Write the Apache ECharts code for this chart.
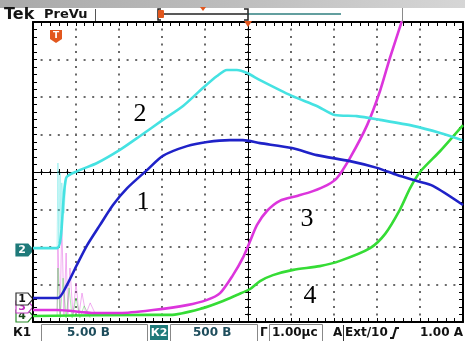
<!DOCTYPE html>
<html>
<head>
<meta charset="utf-8">
<script src="https://cdn.jsdelivr.net/npm/echarts@6/dist/echarts.min.js"></script>
<style>
  html, body { margin: 0; padding: 0; background: #ffffff; }
  #scope { width: 465px; height: 341px; }
</style>
</head>
<body>
<div id="scope"></div>
<script>
// Time base: 1.00 µs/div, trigger at screen centre (t = 0). Vertical values in screen divisions.
const timeRange = [-5, 5];
const divRange = [-4, 4];

// Channel 1 (blue)
const ch1 = [
  [-5.00, -3.36], [-4.42, -3.36], [-4.21, -3.01], [-3.98, -2.48], [-3.74, -1.95],
  [-3.44, -1.41], [-3.14, -0.88], [-2.81, -0.43], [-2.35, 0.05], [-1.98, 0.43],
  [-1.42, 0.69], [-0.95, 0.80], [-0.42, 0.85], [-0.12, 0.85], [0.28, 0.77],
  [1.02, 0.64], [1.60, 0.45], [2.37, 0.29], [3.00, 0.11], [3.47, -0.08],
  [3.93, -0.24], [4.30, -0.37], [5.00, -0.88]
];

// Channel 2 (cyan)
const ch2 = [
  [-5.00, -2.03], [-4.44, -2.03], [-4.23, -0.16], [-3.95, 0.03], [-3.51, 0.24],
  [-2.98, 0.59], [-2.51, 0.96], [-1.98, 1.39], [-1.51, 1.76], [-1.05, 2.24],
  [-0.72, 2.56], [-0.49, 2.72], [-0.26, 2.72], [-0.02, 2.64], [0.28, 2.45],
  [1.02, 2.03], [1.60, 1.76], [2.02, 1.52], [2.53, 1.49], [3.07, 1.39],
  [3.84, 1.23], [4.47, 1.04], [4.98, 0.85]
];
const ch2Burst = [
  [-4.44, -2.03], [-4.42, 0.24], [-4.40, -1.90], [-4.37, -0.03], [-4.35, -1.50],
  [-4.33, -0.29], [-4.28, -1.10], [-4.23, -0.16]
];

// Channel 3 (magenta)
const ch3 = [
  [-5.00, -3.68], [-4.44, -3.68], [-3.56, -3.76], [-2.98, -3.76], [-2.21, -3.68],
  [-1.42, -3.55], [-0.95, -3.41], [-0.65, -3.23], [-0.35, -2.75], [-0.12, -2.29],
  [0.05, -1.84], [0.21, -1.41], [0.44, -1.04], [0.74, -0.77], [1.14, -0.64],
  [1.51, -0.51], [1.84, -0.35], [2.07, -0.16], [2.37, 0.37], [2.77, 1.25],
  [3.07, 2.16], [3.30, 3.04], [3.58, 4.03], [3.70, 4.50]
];
const ch3Burst = [
  [-4.44, -3.68], [-4.42, -2.03], [-4.37, -3.79], [-4.33, -1.36], [-4.28, -3.84],
  [-4.23, -2.16], [-4.19, -3.79], [-4.14, -2.56], [-4.07, -3.84], [-4.00, -2.96],
  [-3.93, -3.79], [-3.86, -3.23], [-3.77, -3.79], [-3.67, -3.49], [-3.56, -3.76]
];

// Channel 4 (green)
const ch4 = [
  [-5.00, -3.84], [-2.28, -3.81], [-1.81, -3.81], [-1.05, -3.63], [-0.58, -3.44],
  [-0.26, -3.28], [0.05, -3.12], [0.28, -2.91], [0.58, -2.75], [1.05, -2.61],
  [1.67, -2.51], [2.14, -2.37], [2.84, -2.03], [3.19, -1.65], [3.53, -1.01],
  [3.77, -0.43], [4.00, 0.00], [4.47, 0.56], [5.00, 1.25]
];
const ch4Burst = [
  [-4.44, -3.84], [-4.42, -2.56], [-4.37, -3.89], [-4.30, -2.83], [-4.23, -3.89],
  [-4.16, -3.09], [-4.09, -3.89], [-4.00, -3.36], [-3.91, -3.89], [-3.81, -3.57],
  [-3.67, -3.89]
];

// Trace numbers placed next to the curves
const traceLabels = ['1', '2', '3', '4'];

const colors = { ch1: '#1f22c8', ch2: '#45e2e2', ch3: '#dc35dc', ch4: '#35dc35' };

const chart = echarts.init(document.getElementById('scope'), null, { renderer: 'canvas' });

const frameX = (pos, extra) => Object.assign({
  type: 'value', min: timeRange[0], max: timeRange[1], interval: 1, position: pos,
  axisLine: { show: true, onZero: false, lineStyle: { color: '#000', width: 2 } },
  axisTick: { show: true, inside: true, length: 4, lineStyle: { color: '#000', width: 1 } },
  minorTick: { show: true, splitNumber: 5, length: 4, lineStyle: { color: '#000', width: 1 } },
  axisLabel: { show: false }, splitLine: { show: false }
}, extra || {});
const frameY = (pos, extra) => Object.assign({
  type: 'value', min: divRange[0], max: divRange[1], interval: 1, position: pos,
  axisLine: { show: true, onZero: false, lineStyle: { color: '#000', width: 2 } },
  axisTick: { show: true, inside: true, length: 4, lineStyle: { color: '#000', width: 1 } },
  minorTick: { show: true, splitNumber: 5, length: 4, lineStyle: { color: '#000', width: 1 } },
  axisLabel: { show: false }, splitLine: { show: false }
}, extra || {});
const crossX = (inside) => frameX('bottom', {
  offset: -150,
  axisLine: { show: true, onZero: false, lineStyle: { color: '#000', width: 1 } },
  axisTick: { show: true, inside: inside, length: 3, lineStyle: { color: '#000', width: 1 } },
  minorTick: { show: true, splitNumber: 5, length: 3, lineStyle: { color: '#000', width: 1 } }
});
const crossY = (inside) => frameY('left', {
  offset: -215,
  axisLine: { show: true, onZero: false, lineStyle: { color: '#000', width: 1 } },
  axisTick: { show: true, inside: inside, length: 3, lineStyle: { color: '#000', width: 1 } },
  minorTick: { show: true, splitNumber: 5, length: 3, lineStyle: { color: '#000', width: 1 } }
});

const traceSeries = (data, color, width, opacity, z) => ({
  type: 'line', data: data, xAxisIndex: 0, yAxisIndex: 0,
  showSymbol: false, symbol: 'none', smooth: width > 1.5 ? 0.25 : false, clip: true,
  lineStyle: { color: color, width: width, opacity: opacity },
  z: z, silent: true, animation: false
});

// Small tag shapes for the channel ground markers on the left edge
function groundTag(y, label, fill, stroke, textColor) {
  return {
    type: 'group', children: [
      { type: 'polygon', shape: { points: [[16, y - 6], [28, y - 6], [33, y], [28, y + 6], [16, y + 6]] },
        style: { fill: fill, stroke: stroke, lineWidth: 1.2 } },
      { type: 'text', x: 22, y: y, style: { text: label, font: 'bold 11px "DejaVu Sans"', fill: textColor, align: 'center', verticalAlign: 'middle' } }
    ]
  };
}

const statusFont = 'bold 12px "DejaVu Sans"';
const dotGrid = (dash) => ({ show: true, lineStyle: { color: '#6a6a6a', width: 2, type: dash, dashOffset: 1, cap: 'butt' } });

chart.setOption({
  animation: false,
  backgroundColor: '#ffffff',
  grid: { left: 33, right: 2, top: 22, bottom: 19, containLabel: false },
  xAxis: [
    frameX('bottom', { splitLine: dotGrid([2, 5.5]) }),
    frameX('top'),
    crossX(true),
    crossX(false)
  ],
  yAxis: [
    frameY('left', { splitLine: dotGrid([2, 6.6]) }),
    frameY('right'),
    crossY(true),
    crossY(false)
  ],
  series: [
    traceSeries(ch2Burst, colors.ch2, 0.8, 0.5, 4),
    traceSeries(ch3Burst, colors.ch3, 0.8, 0.5, 4),
    traceSeries(ch4Burst, colors.ch4, 0.8, 0.5, 4),
    traceSeries(ch4, colors.ch4, 2.6, 1, 5),
    traceSeries(ch3, colors.ch3, 2.6, 1, 5),
    traceSeries(ch2, colors.ch2, 2.6, 1, 5),
    traceSeries(ch1, colors.ch1, 2.6, 1, 6)
  ],
  graphic: [
    // header band
    { type: 'rect', shape: { x: 0, y: 0, width: 465, height: 8 }, z: 10,
      style: { fill: new echarts.graphic.LinearGradient(0, 0, 1, 0, [
        { offset: 0, color: '#a9a9a9' }, { offset: 0.5, color: '#bdbdbd' }, { offset: 1, color: '#d6d6d6' }]) } },
    { type: 'text', x: 4, y: 15, z: 10, style: { text: 'Tek', font: 'bold 16px "DejaVu Sans"', fill: '#151515', verticalAlign: 'middle' } },
    { type: 'text', x: 44, y: 15, z: 10, style: { text: 'PreVu', font: 'bold 13px "DejaVu Sans"', fill: '#151515', verticalAlign: 'middle' } },
    { type: 'line', shape: { x1: 95.5, y1: 9, x2: 95.5, y2: 21 }, z: 10, style: { stroke: '#555', lineWidth: 1 } },
    { type: 'polyline', shape: { points: [[161, 9], [158, 9], [158, 20], [161, 20]] }, z: 10, style: { stroke: '#222', lineWidth: 1.5, fill: null } },
    { type: 'line', shape: { x1: 160, y1: 14, x2: 247, y2: 14 }, z: 10, style: { stroke: '#222', lineWidth: 1.5 } },
    { type: 'line', shape: { x1: 247, y1: 14, x2: 341, y2: 14 }, z: 10, style: { stroke: '#2f7f7f', lineWidth: 1.5 } },
    { type: 'polyline', shape: { points: [[244, 9], [248, 9], [248, 20], [244, 20]] }, z: 10, style: { stroke: '#222', lineWidth: 1.5, fill: null } },
    { type: 'rect', shape: { x: 158, y: 10, width: 6, height: 8, r: 1 }, z: 11, style: { fill: '#e2571e' } },
    { type: 'polygon', shape: { points: [[200, 7], [206, 7], [203, 11]] }, z: 11, style: { fill: '#e2571e' } },
    { type: 'line', shape: { x1: 402.5, y1: 8, x2: 402.5, y2: 22 }, z: 10, style: { stroke: '#8a8a8a', lineWidth: 1 } },
    // trigger markers
    { type: 'polygon', shape: { points: [[244, 21], [252, 21], [248, 27]] }, z: 12, style: { fill: '#e2571e' } },
    { type: 'group', z: 12, children: [
      { type: 'polygon', shape: { points: [[50, 30], [62, 30], [62, 39], [56, 43], [50, 39]] }, style: { fill: '#e2571e' } },
      { type: 'text', x: 56, y: 36, style: { text: 'T', font: 'bold 9px "DejaVu Sans"', fill: '#fff', align: 'center', verticalAlign: 'middle' } }
    ] },
    // channel ground markers
    groundTag(250, '2', '#1f7a7a', '#1f7a7a', '#ffffff'),
    groundTag(316, '4', '#ffffff', '#2a8a2a', '#1a4a1a'),
    groundTag(307, '3', '#ffffff', '#c040c0', '#c030c0'),
    groundTag(299, '1', '#ffffff', '#333333', '#111111'),
    // trace numbers
    { type: 'text', x: 140, y: 114, z: 12, style: { text: traceLabels[1], font: '26px "Liberation Serif"', fill: '#000', align: 'center', verticalAlign: 'middle' } },
    { type: 'text', x: 143, y: 202, z: 12, style: { text: traceLabels[0], font: '26px "Liberation Serif"', fill: '#000', align: 'center', verticalAlign: 'middle' } },
    { type: 'text', x: 307, y: 219, z: 12, style: { text: traceLabels[2], font: '26px "Liberation Serif"', fill: '#000', align: 'center', verticalAlign: 'middle' } },
    { type: 'text', x: 310, y: 296, z: 12, style: { text: traceLabels[3], font: '26px "Liberation Serif"', fill: '#000', align: 'center', verticalAlign: 'middle' } },
    // status bar
    { type: 'text', x: 13, y: 333, z: 10, style: { text: 'К1', font: statusFont, fill: '#111', verticalAlign: 'middle' } },
    { type: 'rect', shape: { x: 41.5, y: 324.5, width: 106, height: 20 }, z: 10, style: { fill: null, stroke: '#888', lineWidth: 1 } },
    { type: 'text', x: 67, y: 333, z: 10, style: { text: '5.00 В', font: statusFont, fill: '#1e4d5c', verticalAlign: 'middle' } },
    { type: 'rect', shape: { x: 150, y: 325, width: 18, height: 15 }, z: 10, style: { fill: '#1f7a7a' } },
    { type: 'text', x: 159, y: 333, z: 11, style: { text: 'К2', font: 'bold 11px "DejaVu Sans"', fill: '#fff', align: 'center', verticalAlign: 'middle' } },
    { type: 'rect', shape: { x: 170.5, y: 324.5, width: 87, height: 20 }, z: 10, style: { fill: null, stroke: '#888', lineWidth: 1 } },
    { type: 'text', x: 193, y: 333, z: 10, style: { text: '500 В', font: statusFont, fill: '#1e4d5c', verticalAlign: 'middle' } },
    { type: 'text', x: 260, y: 333, z: 10, style: { text: 'Г', font: statusFont, fill: '#111', verticalAlign: 'middle' } },
    { type: 'rect', shape: { x: 269.5, y: 324.5, width: 53, height: 20 }, z: 10, style: { fill: null, stroke: '#888', lineWidth: 1 } },
    { type: 'text', x: 272, y: 333, z: 10, style: { text: '1.00μс', font: statusFont, fill: '#111', verticalAlign: 'middle' } },
    { type: 'text', x: 333, y: 333, z: 10, style: { text: 'A', font: statusFont, fill: '#111', verticalAlign: 'middle' } },
    { type: 'line', shape: { x1: 343.5, y1: 325, x2: 343.5, y2: 341 }, z: 10, style: { stroke: '#333', lineWidth: 1 } },
    { type: 'text', x: 345, y: 333, z: 10, style: { text: 'Ext/10', font: statusFont, fill: '#111', verticalAlign: 'middle' } },
    { type: 'polyline', shape: { points: [[390, 338], [393, 338], [396, 328], [399, 328]] }, z: 10, style: { stroke: '#111', lineWidth: 2, fill: null } },
    { type: 'text', x: 463, y: 333, z: 10, style: { text: '1.00 A', font: statusFont, fill: '#111', align: 'right', verticalAlign: 'middle' } }
  ]
});
</script>
</body>
</html>
